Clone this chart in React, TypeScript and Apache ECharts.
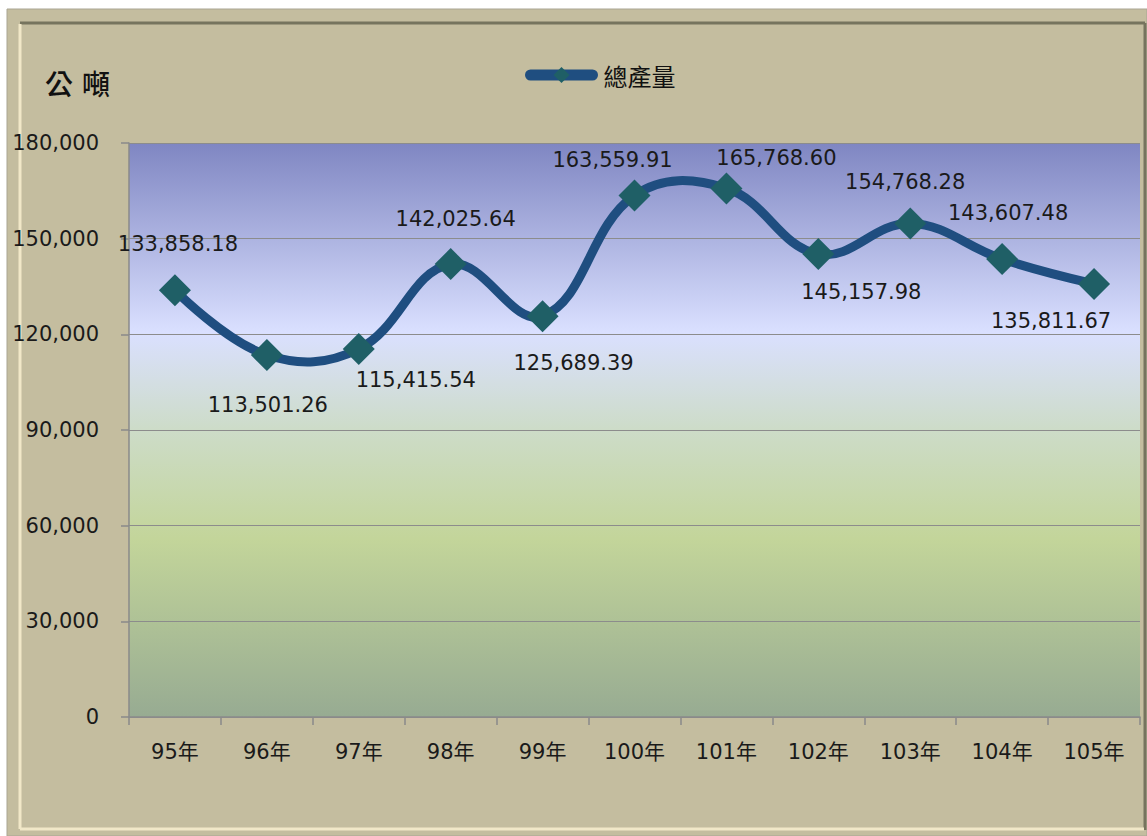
import React, { useEffect, useRef } from "react";
import * as echarts from "echarts";

const categories = ["95年", "96年", "97年", "98年", "99年", "100年", "101年", "102年", "103年", "104年", "105年"];
const production = [133858.18, 113501.26, 115415.54, 142025.64, 125689.39, 163559.91, 165768.6, 145157.98, 154768.28, 143607.48, 135811.67];
const yTicks = { min: 0, max: 180000, interval: 30000 };
const seriesName = "總產量";
const unitLabel = "公 噸";
// label placement relative to each marker (dx, dy)
const labelOffsets: [number, number][] = [
  [3, -46], [1, 50], [57, 31], [5, -45], [31, 47], [-22, -35], [50, -30], [43, 38], [-5, -41], [6, -46], [-43, 37],
];

const LINE_COLOR = "#1F4E80";
const MARK_COLOR = "#1F5F66";

const fmt = (v: number, d: number) =>
  v.toLocaleString("en-US", { minimumFractionDigits: d, maximumFractionDigits: d });

export default function App() {
  const ref = useRef<HTMLDivElement>(null);
  useEffect(() => {
    if (!ref.current) return;
    const chart = echarts.init(ref.current, null, { renderer: "svg" });
    const font = "'DejaVu Sans', 'Noto Sans CJK TC', sans-serif";
    chart.setOption({
      animation: false,
      backgroundColor: "#ffffff",
      textStyle: { fontFamily: font },
      graphic: [
        { type: "rect", silent: true, z: -10, shape: { x: 7, y: 9, width: 1140, height: 827 }, style: { fill: "#C4BD9F", stroke: "#a9a592", lineWidth: 1 } },
        { type: "line", silent: true, z: -9, shape: { x1: 20, y1: 23, x2: 1145, y2: 23 }, style: { stroke: "#76745e", lineWidth: 3 } },
        { type: "line", silent: true, z: -9, shape: { x1: 1145, y1: 23, x2: 1145, y2: 830 }, style: { stroke: "#76745e", lineWidth: 3 } },
        { type: "line", silent: true, z: -9, shape: { x1: 20, y1: 24, x2: 20, y2: 829 }, style: { stroke: "#f1e8c8", lineWidth: 3 } },
        { type: "line", silent: true, z: -9, shape: { x1: 20, y1: 829, x2: 1144, y2: 829 }, style: { stroke: "#f1e8c8", lineWidth: 3 } },
        { type: "text", silent: true, left: 45, top: 71, style: { text: unitLabel, fontSize: 28, fill: "#111", fontFamily: "'DejaVu Sans', 'Noto Sans CJK TC', sans-serif", fontWeight: 500 } },
      ],
      legend: {
        data: [seriesName],
        left: 520,
        top: 58,
        itemWidth: 62,
        itemHeight: 20,
        itemGap: 10,
        textStyle: { fontSize: 24, color: "#111", fontFamily: "'Noto Sans CJK TC', sans-serif", padding: [0, 0, 0, 6] },
        lineStyle: { width: 11, cap: "round", color: LINE_COLOR, opacity: 1 },
        itemStyle: { color: MARK_COLOR },
      },
      grid: {
        left: 129,
        right: 7,
        top: 143,
        bottom: 119,
        show: true,
        borderWidth: 0,
        backgroundColor: new echarts.graphic.LinearGradient(0, 0, 0, 1, [
          { offset: 0, color: "#7F86C2" },
          { offset: 0.33, color: "#DAE0FF" },
          { offset: 0.5, color: "#CDDCC8" },
          { offset: 0.69, color: "#C3D59A" },
          { offset: 1, color: "#97AB92" },
        ]),
      },
      xAxis: {
        type: "category",
        data: categories,
        boundaryGap: true,
        axisLine: { lineStyle: { color: "#8a8a8a", width: 1.5 } },
        axisTick: { show: true, interval: 0, length: 8, lineStyle: { color: "#8a8a8a", width: 1.5 } },
        axisLabel: { interval: 0, fontSize: 21, color: "#1a1a1a", margin: 24, fontFamily: font },
      },
      yAxis: {
        type: "value",
        min: yTicks.min,
        max: yTicks.max,
        interval: yTicks.interval,
        axisLine: { show: true, lineStyle: { color: "#8a8a8a", width: 1.5 } },
        axisTick: { show: true, length: 8, lineStyle: { color: "#8a8a8a", width: 1.5 } },
        splitLine: { show: true, lineStyle: { color: "#8c8c8c", width: 1.2 } },
        axisLabel: { fontSize: 21, color: "#1a1a1a", margin: 30, fontFamily: font, formatter: (v: number) => fmt(v, 0) },
      },
      series: [
        {
          type: "custom",
          name: "curve",
          z: 4,
          silent: true,
          data: production.map((v, i) => [i, v]),
          encode: { x: 0, y: 1 },
          renderItem: (params: any, api: any) => {
            if (params.dataIndex !== 0) return null;
            const pts = production.map((v, i) => api.coord([i, v]));
            return {
              type: "polyline",
              shape: { points: pts, smooth: 0.4 },
              style: { stroke: LINE_COLOR, lineWidth: 9, fill: null, lineJoin: "round", lineCap: "round" },
            };
          },
        },
        {
          name: seriesName,
          type: "line",
          symbol: "diamond",
          symbolSize: 32,
          lineStyle: { color: LINE_COLOR, width: 9, opacity: 0 },
          itemStyle: { color: MARK_COLOR },
          data: production.map((v, i) => ({
            value: v,
            label: { offset: labelOffsets[i] },
          })),
          label: {
            show: true,
            position: "inside",
            fontSize: 21,
            color: "#1a1a1a",
            fontFamily: font,
            formatter: (p: any) => fmt(p.value, 2),
          },
          z: 5,
        },
      ],
    });
    return () => chart.dispose();
  }, []);
  return <div ref={ref} style={{ position: "fixed", left: 0, top: 0, width: 1147, height: 836 }} />;
}
